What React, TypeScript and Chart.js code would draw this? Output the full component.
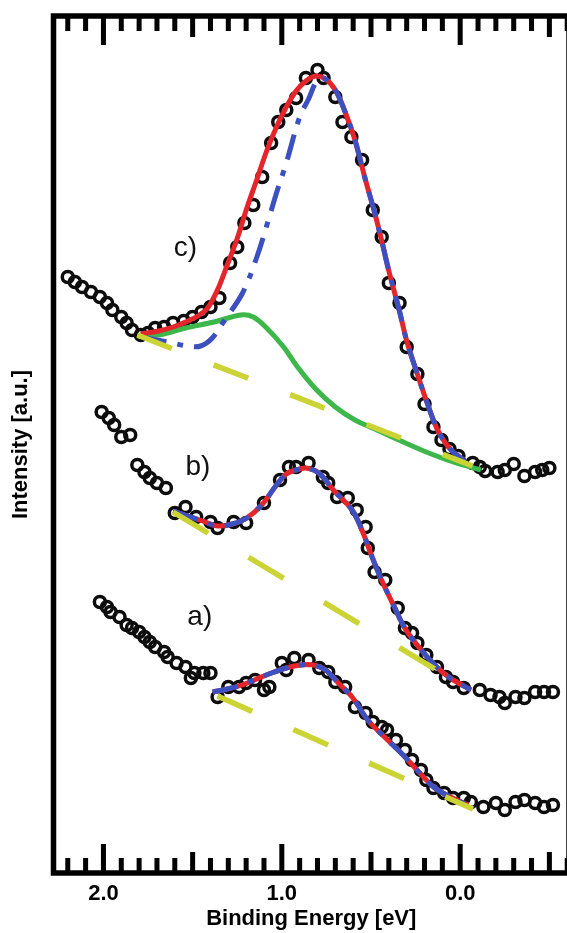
import React, { useEffect, useRef } from 'react';
import { Chart, registerables } from 'chart.js';

Chart.register(...registerables);

type P = [number, number];

// ---- axis text ----
const xTickValues = [2, 1, 0];
const xTickLabels = ['2.0', '1.0', '0.0'];
const xTitle = 'Binding Energy [eV]';
const yTitle = 'Intensity [a.u.]';

// ---- curve labels (binding energy, intensity) ----
const curveLabels = ['a)', 'b)', 'c)'];
const curveLabelX = [1.46, 1.47, 1.54];
const curveLabelY = [25.6, 40.6, 62.5];

// ---- spectrum c ----
const cData: P[] = [
  [2.20, 59.6], [2.16, 59.1], [2.12, 58.6], [2.07, 58.1], [2.02, 57.6], [1.98, 57.0], [1.95, 56.3],
  [1.90, 55.6], [1.87, 55.0], [1.84, 54.3], [1.79, 53.8], [1.75, 54.0], [1.71, 54.5], [1.66, 54.6],
  [1.61, 55.0], [1.55, 55.2], [1.50, 55.6], [1.45, 56.1], [1.40, 56.6], [1.35, 57.5], [1.29, 61.0],
  [1.25, 62.6], [1.21, 65.0], [1.16, 66.8], [1.11, 69.6], [1.06, 73.0], [1.02, 75.1], [0.975, 76.3],
  [0.92, 77.5], [0.865, 79.5], [0.80, 80.3], [0.766, 79.5], [0.70, 77.6], [0.66, 75.1], [0.61, 73.6],
  [0.55, 71.3], [0.49, 66.3], [0.44, 63.6], [0.40, 59.0], [0.34, 57.0], [0.30, 52.6], [0.24, 49.9],
  [0.20, 46.9], [0.15, 44.6], [0.105, 43.3], [0.06, 42.4], [0.01, 41.7], [-0.07, 41.0], [-0.11, 40.6],
  [-0.14, 40.2], [-0.21, 40.1], [-0.25, 40.3], [-0.30, 40.9], [-0.36, 39.7], [-0.42, 40.1], [-0.46, 40.3],
  [-0.50, 40.5],
];
const cFit: P[] = [
  [1.791, 53.9], [1.691, 54.2], [1.609, 54.6], [1.526, 55.2], [1.471, 55.7], [1.416, 56.5], [1.361, 58.3],
  [1.306, 60.8], [1.251, 63.4], [1.196, 66.5], [1.141, 69.3], [1.085, 72.2], [1.030, 74.6], [0.975, 76.6],
  [0.920, 78.2], [0.865, 79.2], [0.810, 79.7], [0.755, 79.4], [0.700, 78.3], [0.645, 76.1], [0.590, 73.3],
  [0.534, 69.5], [0.479, 66.0], [0.441, 63.3], [0.397, 60.0], [0.342, 56.3], [0.298, 53.1], [0.242, 50.0],
  [0.187, 47.1], [0.132, 44.5], [0.083, 43.0], [0.039, 42.1], [-0.028, 41.2],
];
const cPeak: P[] = [
  [1.79, 53.6], [1.64, 53.1], [1.53, 52.7], [1.455, 52.7], [1.39, 53.5], [1.32, 55.3], [1.22, 58.0],
  [1.14, 61.6], [1.07, 65.6], [1.03, 68.0], [0.975, 71.0], [0.90, 75.6], [0.85, 77.4], [0.80, 79.3],
  [0.755, 79.4], [0.700, 78.3], [0.645, 76.1], [0.590, 73.3], [0.534, 69.5], [0.479, 66.0], [0.441, 63.3],
  [0.397, 60.0], [0.342, 56.3], [0.298, 53.1], [0.242, 50.0], [0.187, 47.1], [0.132, 44.5], [0.083, 43.0],
  [0.039, 42.1], [-0.028, 41.2],
];
const cShoulder: P[] = [
  [1.81, 53.7], [1.69, 53.8], [1.54, 54.5], [1.38, 55.1], [1.23, 55.8], [1.16, 55.6], [1.085, 54.5],
  [0.99, 52.6], [0.92, 50.8], [0.81, 48.4], [0.70, 46.6], [0.59, 45.3], [0.479, 44.4], [0.369, 43.5],
  [0.204, 42.2], [0.039, 41.1], [-0.116, 40.3],
];
const cBackground: P[] = [[1.81, 53.8], [-0.07, 40.7]];

// ---- spectrum b ----
const bData: P[] = [
  [2.01, 46.1], [1.97, 45.5], [1.94, 44.8], [1.90, 43.6], [1.85, 43.8], [1.81, 40.8], [1.77, 40.1],
  [1.74, 39.5], [1.70, 39.0], [1.65, 38.5], [1.60, 36.0], [1.54, 36.6], [1.48, 35.6], [1.40, 35.1],
  [1.36, 34.5], [1.27, 35.1], [1.20, 35.0], [1.10, 37.0], [1.01, 39.3], [0.96, 40.6], [0.92, 40.6],
  [0.85, 41.0], [0.77, 39.6], [0.74, 39.0], [0.69, 37.6], [0.63, 37.5], [0.58, 36.3], [0.53, 34.6],
  [0.518, 32.5], [0.48, 30.1], [0.42, 29.3], [0.35, 26.5], [0.31, 24.5], [0.27, 24.0], [0.24, 23.0],
  [0.19, 21.8], [0.13, 20.6], [0.08, 19.6], [0.04, 19.1], [-0.02, 18.5], [-0.11, 18.3], [-0.17, 17.8],
  [-0.22, 17.6], [-0.25, 17.0], [-0.31, 17.6], [-0.36, 17.5], [-0.42, 18.1], [-0.47, 18.1], [-0.52, 18.1],
];
const bFit: P[] = [
  [1.609, 36.2], [1.526, 35.7], [1.444, 35.2], [1.361, 34.7], [1.278, 34.9], [1.196, 35.5], [1.113, 36.8],
  [1.030, 38.8], [0.975, 39.9], [0.920, 40.3], [0.865, 40.5], [0.793, 40.0], [0.711, 38.3], [0.606, 36.3],
  [0.551, 34.3], [0.496, 31.7], [0.441, 29.3], [0.369, 26.6], [0.314, 24.6], [0.259, 23.2], [0.204, 22.0],
  [0.149, 20.9], [0.094, 20.0], [0.039, 19.3], [-0.061, 18.3],
];
const bBackground: P[] = [[1.61, 36.1], [-0.083, 18.0]];

// ---- spectrum a ----
const aData: P[] = [
  [2.02, 27.1], [1.98, 26.6], [1.96, 26.1], [1.91, 25.6], [1.87, 24.8], [1.84, 24.5], [1.80, 24.1],
  [1.77, 23.6], [1.74, 23.1], [1.71, 22.6], [1.66, 22.1], [1.64, 21.6], [1.59, 21.0], [1.54, 20.6],
  [1.51, 19.5], [1.49, 20.0], [1.44, 20.0], [1.40, 20.0], [1.36, 17.6], [1.30, 18.6], [1.24, 18.6],
  [1.20, 19.0], [1.15, 19.3], [1.10, 18.3], [1.07, 18.6], [1.00, 21.0], [0.975, 20.3], [0.93, 21.5],
  [0.85, 21.3], [0.79, 20.5], [0.74, 20.1], [0.70, 19.1], [0.645, 18.6], [0.59, 16.6], [0.53, 16.0],
  [0.49, 15.1], [0.44, 14.6], [0.41, 14.3], [0.36, 13.3], [0.31, 12.3], [0.27, 11.3], [0.22, 10.3],
  [0.19, 9.3], [0.15, 8.5], [0.09, 8.0], [0.04, 7.5], [-0.02, 7.5], [-0.06, 7.1], [-0.13, 6.6],
  [-0.20, 7.0], [-0.25, 6.3], [-0.31, 7.1], [-0.36, 7.3], [-0.42, 7.0], [-0.47, 6.6], [-0.52, 6.8],
];
const aFit: P[] = [
  [1.388, 18.1], [1.306, 18.4], [1.223, 18.8], [1.141, 19.4], [1.058, 20.0], [0.975, 20.5], [0.893, 20.8],
  [0.821, 20.8], [0.755, 20.3], [0.683, 19.0], [0.606, 17.6], [0.518, 15.3], [0.424, 13.6], [0.331, 12.0],
  [0.242, 10.3], [0.149, 8.6], [0.055, 7.6], [-0.044, 6.8],
];
const aBackground: P[] = [[1.361, 17.7], [-0.072, 6.4]];

// ---- styling ----
const FONT = "'Liberation Sans', Arial, Helvetica, sans-serif";
const RED = '#e3262b';
const BLUE = '#3c50c0';
const GREEN = '#3db74a';
const YELLOW = '#cbd335';

const toXY = (arr: P[]) => arr.map(([x, y]) => ({ x, y }));

const points = (arr: P[]) => ({
  data: toXY(arr),
  showLine: false,
  pointRadius: 5.5,
  pointHoverRadius: 5.5,
  pointBorderWidth: 3.5,
  pointBorderColor: '#0d0d0d',
  pointBackgroundColor: 'rgba(0,0,0,0)',
  order: 10,
});

const curve = (arr: P[], color: string, dash: number[], order: number, tension = 0.35, width = 5) => ({
  data: toXY(arr),
  showLine: true,
  pointRadius: 0,
  pointHoverRadius: 0,
  borderColor: color,
  backgroundColor: color,
  borderWidth: width,
  borderDash: dash,
  tension,
  fill: false,
  order,
});

const framePlugin = {
  id: 'frameTicks',
  afterDatasetsDraw(chart: any) {
    const { ctx, chartArea: a, scales } = chart;
    const x = scales.x;
    ctx.save();
    ctx.strokeStyle = '#000';
    ctx.lineWidth = 5;
    ctx.lineCap = 'butt';
    for (let i = -6; i <= 22; i++) {
      const px = x.getPixelForValue(i / 10);
      if (px < a.left + 4) continue;
      const len = i % 10 === 0 ? 29 : i % 5 === 0 ? 21 : 15;
      ctx.beginPath();
      ctx.moveTo(px, a.bottom);
      ctx.lineTo(px, a.bottom - len);
      ctx.moveTo(px, a.top);
      ctx.lineTo(px, a.top + len);
      ctx.stroke();
    }
    ctx.lineWidth = 5.5;
    ctx.lineJoin = 'miter';
    ctx.strokeRect(a.left, a.top, a.right - a.left, a.bottom - a.top);
    ctx.restore();
  },
};

const labelPlugin = {
  id: 'curveLabels',
  afterDatasetsDraw(chart: any) {
    const { ctx, scales } = chart;
    ctx.save();
    ctx.fillStyle = '#111';
    ctx.font = `28px ${FONT}`;
    ctx.textAlign = 'center';
    ctx.textBaseline = 'middle';
    curveLabels.forEach((t, i) => {
      ctx.fillText(t, scales.x.getPixelForValue(curveLabelX[i]), scales.y.getPixelForValue(curveLabelY[i]));
    });
    ctx.restore();
  },
};

export default function App() {
  const ref = useRef<HTMLCanvasElement | null>(null);

  useEffect(() => {
    if (!ref.current) return;
    const chart = new Chart(ref.current, {
      type: 'scatter',
      data: {
        datasets: [
          points(cData),
          points(bData),
          points(aData),
          curve(cShoulder, GREEN, [], 3),
          curve(cFit, RED, [], 2),
          curve(bFit, RED, [], 2),
          curve(aFit, RED, [], 2),
          curve(cPeak, BLUE, [26, 11, 6, 11], 1),
          curve(bFit, BLUE, [26, 11, 6, 11], 1),
          curve(aFit, BLUE, [26, 11, 6, 11], 1),
          curve(cBackground, YELLOW, [37, 45], 0, 0, 5.5),
          curve(bBackground, YELLOW, [41, 47], 0, 0, 5.5),
          curve(aBackground, YELLOW, [38, 45], 0, 0, 5.5),
        ] as any,
      },
      options: {
        animation: false,
        responsive: false,
        devicePixelRatio: 1,
        events: [],
        layout: { padding: { top: 16, left: 0, right: 0, bottom: 0 } },
        plugins: { legend: { display: false }, tooltip: { enabled: false } },
        scales: {
          x: {
            type: 'linear',
            reverse: true,
            min: -0.61,
            max: 2.28,
            grid: { display: false, drawTicks: false },
            border: { display: false },
            afterBuildTicks: (s: any) => {
              s.ticks = xTickValues.map((v) => ({ value: v }));
            },
            afterFit: (s: any) => {
              s.height = 60;
            },
            ticks: {
              autoSkip: false,
              maxRotation: 0,
              minRotation: 0,
              padding: 8,
              color: '#000',
              font: { family: FONT, size: 22, weight: 'bold' },
              callback: (_v: any, i: number) => xTickLabels[i] ?? '',
            },
            title: {
              display: true,
              text: xTitle,
              color: '#000',
              font: { family: FONT, size: 22, weight: 'bold' },
              padding: { top: 0, bottom: 1 },
            },
          },
          y: {
            type: 'linear',
            min: 0,
            max: 85.7,
            grid: { display: false, drawTicks: false },
            border: { display: false },
            ticks: { display: false },
            afterFit: (s: any) => {
              s.width = 53.5;
            },
            title: {
              display: true,
              text: yTitle,
              color: '#000',
              font: { family: FONT, size: 22, weight: 'bold' },
              padding: { top: 8, bottom: 0 },
            },
          },
        },
      } as any,
      plugins: [framePlugin, labelPlugin],
    });
    return () => chart.destroy();
  }, []);

  return (
    <div
      style={{
        position: 'absolute',
        left: 0,
        top: 0,
        width: 567,
        height: 933,
        overflow: 'hidden',
        background: '#fff',
      }}
    >
      <canvas ref={ref} width={578} height={933} style={{ display: 'block', width: 578, height: 933 }} />
    </div>
  );
}
